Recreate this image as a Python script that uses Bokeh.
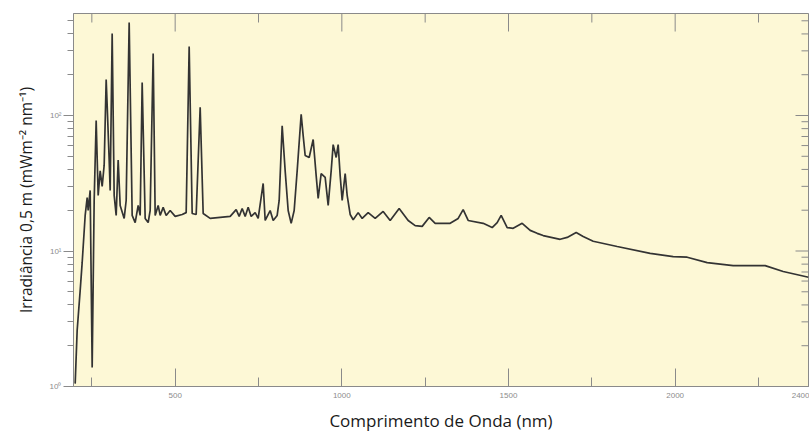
import math
from bokeh.plotting import figure
from bokeh.models import FixedTicker, Range1d, CustomJSTickFormatter
from bokeh.embed import file_html
from bokeh.resources import INLINE

# Wavelength (nm) and irradiance at 0.5 m (mW m^-2 nm^-1)
wavelength_nm = [
    200, 206, 215, 221, 230, 236, 239, 245, 251, 257, 263, 269, 275, 281, 287,
    293, 296, 302, 305, 311, 317, 323, 329, 335, 347, 353, 362, 371, 380, 389,
    395, 401, 410, 419, 425, 434, 440, 449, 455, 464, 473, 485, 500, 521, 533,
    542, 551, 563, 575, 584, 605, 635, 665, 683, 692, 701, 710, 719, 728, 740,
    749, 764, 770, 785, 794, 806, 812, 821, 830, 839, 848, 857, 866, 878, 884,
    890, 902, 914, 923, 929, 938, 950, 959, 968, 974, 983, 989, 995, 1001, 1010,
    1016, 1025, 1034, 1049, 1061, 1079, 1100, 1124, 1145, 1172, 1199, 1220, 1241,
    1262, 1280, 1325, 1349, 1364, 1379, 1424, 1451, 1466, 1478, 1496, 1514, 1541,
    1565, 1586, 1604, 1655, 1676, 1703, 1724, 1754, 1826, 1925, 1994, 2036, 2096,
    2174, 2270, 2324, 2400,
]
irradiance = [
    1.05, 2.6, 5.1, 8.2, 18.3, 24.8, 19.9, 28, 1.38, 23.6, 92, 25.7, 39, 30, 43,
    184, 119, 47, 28, 403, 25.7, 18.3, 47, 21.7, 17.4, 23.6, 486, 18.3, 16.2, 21.7,
    18.3, 175, 17.4, 16.2, 19.9, 287, 18.3, 21.7, 18.3, 21, 18.3, 19.9, 18, 18.6, 19.2,
    323, 18.9, 18.6, 115, 18.9, 17.4, 17.7, 18, 20.2, 18, 20.6, 18, 21, 18, 19.2,
    17.4, 31.5, 16.8, 19.9, 16.8, 18.3, 23.6, 84, 39, 19.9, 16, 19.9, 39, 102, 71,
    50.7, 49, 66.5, 36, 24.4, 37.3, 34.9, 21.7, 39, 61, 49, 61, 36, 23.6, 37.3,
    25.7, 18.6, 17, 19.2, 17.4, 19.2, 17.4, 19.6, 16.8, 20.6, 16.8, 15.4, 15.2,
    17.7, 16, 16, 17.4, 20.2, 16.8, 16, 14.9, 16.2, 18.3, 14.9, 14.7, 16,
    14.2, 13.5, 13, 12.2, 12.6, 13.7, 12.8, 11.8, 10.8, 9.6, 9.1, 9.0, 8.2,
    7.8, 7.8, 7.06, 6.4,
]

x_major_ticks = [500, 1000, 1500, 2000, 2400]
x_minor_ticks = [250, 750, 1250, 1750, 2250]
y_major_ticks = [1, 10, 100]
y_minor_ticks = [2, 3, 4, 5, 6, 7, 8, 9, 20, 30, 40, 50, 60, 70, 80, 90,
                 200, 300, 400, 500]

x_title = "Comprimento de Onda (nm)"
y_title = "Irradiância 0,5 m (mWm⁻² nm⁻¹)"

X_START, X_END = 195, 2400
Y_START, Y_END = 1, 566

AX = "#8a8a8a"
LBL = "#8c8c8c"

p = figure(width=809, height=434, output_backend="svg", toolbar_location=None,
           x_range=Range1d(X_START, X_END), y_range=Range1d(Y_START, Y_END),
           y_axis_type="log",
           min_border_left=73, min_border_top=13, min_border_right=1,
           min_border_bottom=48,
           background_fill_color="#FDF8D6", border_fill_color="white")
p.grid.visible = False
p.outline_line_color = AX
p.outline_line_width = 1

p.line(wavelength_nm, irradiance, line_color="#333333", line_width=1.7)

# inward ticks on the top and right frame edges (clipped to the frame)
p.scatter([t for t in x_major_ticks], [Y_END] * len(x_major_ticks), marker="dash",
          size=36, angle=math.pi / 2, line_color=AX, line_width=1)
p.scatter([t for t in x_minor_ticks], [Y_END] * len(x_minor_ticks), marker="dash",
          size=18, angle=math.pi / 2, line_color=AX, line_width=1)
p.scatter([X_END] * len(y_major_ticks), y_major_ticks, marker="dash",
          size=26, line_color=AX, line_width=1)
p.scatter([X_END] * len(y_minor_ticks), y_minor_ticks, marker="dash",
          size=14, line_color=AX, line_width=1)

xt = FixedTicker(ticks=x_major_ticks, minor_ticks=x_minor_ticks)
yt = FixedTicker(ticks=y_major_ticks, minor_ticks=y_minor_ticks)

sup_fmt = CustomJSTickFormatter(code="""
const s = ['⁰','¹','²','³','⁴'];
const e = Math.round(Math.log10(tick));
return '10' + s[e];
""")

xa = p.xaxis[0]
xa.ticker = xt
xa.axis_line_color = AX
xa.major_tick_line_color = AX
xa.minor_tick_line_color = AX
xa.major_tick_in = 18
xa.major_tick_out = 0
xa.minor_tick_in = 9
xa.minor_tick_out = 0
xa.major_label_text_font = "Liberation Sans"
xa.major_label_text_font_size = "8px"
xa.major_label_text_color = LBL
xa.major_label_standoff = 6
xa.axis_label = x_title
xa.axis_label_text_font = "Open Sans"
xa.axis_label_text_font_style = "normal"
xa.axis_label_text_font_size = "17px"
xa.axis_label_text_color = "#1a1a1a"
xa.axis_label_standoff = 8

ya = p.yaxis[0]
ya.ticker = yt
ya.formatter = sup_fmt
ya.axis_line_color = AX
ya.major_tick_line_color = AX
ya.minor_tick_line_color = AX
ya.major_tick_in = 0
ya.major_tick_out = 10
ya.minor_tick_in = 0
ya.minor_tick_out = 6
ya.major_label_text_font = "Liberation Sans"
ya.major_label_text_font_size = "8px"
ya.major_label_text_color = LBL
ya.major_label_standoff = 2
ya.axis_label = y_title
ya.axis_label_text_font = "Open Sans"
ya.axis_label_text_font_style = "normal"
ya.axis_label_text_font_size = "15.5px"
ya.axis_label_text_color = "#1a1a1a"
ya.axis_label_standoff = 10

open("out.html", "w").write(file_html(p, INLINE))
